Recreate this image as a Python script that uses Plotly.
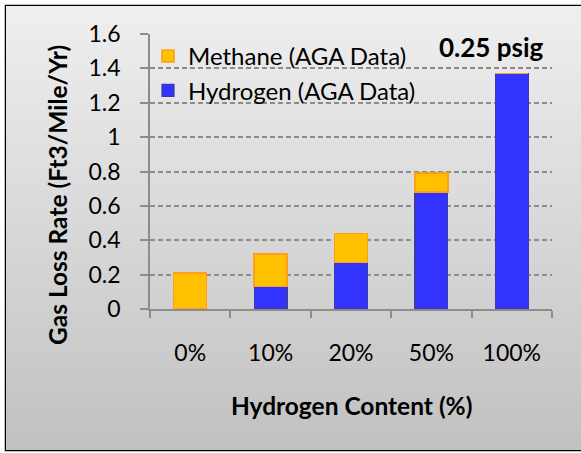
import base64
import plotly.graph_objects as go

# Gas loss rate at 0.25 psig, split by gas component
categories = ["0%", "10%", "20%", "50%", "100%"]
hydrogen = [0.0, 0.13, 0.27, 0.68, 1.37]
methane = [0.21, 0.19, 0.17, 0.11, 0.0]
y_ticks = [0, 0.2, 0.4, 0.6, 0.8, 1, 1.2, 1.4, 1.6]
y_tick_text = ["0", "0.2", "0.4", "0.6", "0.8", "1", "1.2", "1.4", "1.6"]

W, H = 581, 453
L, R, T, B = 150, 29, 34, 144
PW, PH = W - L - R, H - T - B
FONT = "Lato"


def px_x(x):
    return (x - L) / PW


def px_y(y):
    return (H - B - y) / PH


# Grey vertical gradient panel with a thin black frame behind the whole chart
svg = (
    '<svg xmlns="http://www.w3.org/2000/svg" width="578" height="447" viewBox="0 0 578 447" preserveAspectRatio="none">'
    '<defs><linearGradient id="g" x1="0" y1="0" x2="0" y2="1">'
    '<stop offset="0" stop-color="#efefef"/><stop offset="1" stop-color="#c1c1c1"/>'
    '</linearGradient></defs>'
    '<rect x="0.75" y="0.75" width="590" height="445.5" fill="url(#g)" stroke="#000" stroke-width="1.5"/>'
    '</svg>'
)
bg_src = "data:image/svg+xml;base64," + base64.b64encode(svg.encode()).decode()

fig = go.Figure()
fig.add_trace(go.Bar(
    x=categories, y=hydrogen, name="Hydrogen (AGA Data)", legendrank=2,
    marker=dict(color="#3333ff", line=dict(color="#3c3ca8", width=1.2)),
))
fig.add_trace(go.Bar(
    x=categories, y=methane, name="Methane (AGA Data)", legendrank=1,
    marker=dict(color="#ffc000", line=dict(color="#ff9e1a", width=1.5)),
))

fig.update_layout(
    width=W, height=H,
    margin=dict(l=L, r=R, t=T, b=B, pad=0),
    barmode="stack", bargap=0.59,
    paper_bgcolor="white", plot_bgcolor="white",
    font=dict(family=FONT, size=23, color="black"),
    showlegend=True,
    legend=dict(
        x=px_x(148), y=px_y(34), xanchor="left", yanchor="top",
        bgcolor="rgba(0,0,0,0)", traceorder="normal",
        font=dict(family=FONT, size=24), itemwidth=30,
    ),
    xaxis=dict(
        showline=True, linecolor="#8c8c8c", linewidth=1.5,
        ticks="outside", tickson="boundaries", ticklen=7, tickwidth=1.5, tickcolor="#8c8c8c",
        ticklabelstandoff=23, showgrid=False,
        tickfont=dict(family=FONT, size=23),
    ),
    yaxis=dict(
        range=[0, 1.6], tickvals=y_ticks, ticktext=y_tick_text,
        showline=True, linecolor="#8c8c8c", linewidth=1.5,
        ticks="outside", ticklen=8, tickwidth=1.5, tickcolor="#8c8c8c",
        ticklabelstandoff=15,
        showgrid=True, gridcolor="#8c8c8c", gridwidth=1.5, griddash="5px,3px",
        zeroline=False,
        tickfont=dict(family=FONT, size=23),
    ),
    images=[dict(
        source=bg_src, xref="paper", yref="paper",
        x=px_x(4.5), y=px_y(4.5), sizex=578 / PW, sizey=447 / PH,
        xanchor="left", yanchor="top", sizing="stretch", layer="below",
    )],
    annotations=[
        dict(text="<b>0.25 psig</b>", xref="paper", yref="paper",
             x=px_x(546), y=px_y(47), xanchor="right", yanchor="middle",
             showarrow=False, font=dict(family=FONT, size=26)),
        dict(text="<b>Hydrogen Content (%)</b>", xref="paper", yref="paper",
             x=px_x(351), y=px_y(405), xanchor="center", yanchor="middle",
             showarrow=False, font=dict(family=FONT, size=24.5)),
        dict(text="<b>Gas Loss Rate (Ft3/Mile/Yr)</b>", xref="paper", yref="paper",
             x=px_x(57), y=px_y(195), xanchor="center", yanchor="middle",
             textangle=-90, showarrow=False, font=dict(family=FONT, size=24.5)),
    ],
)

fig.write_html("out.html")
